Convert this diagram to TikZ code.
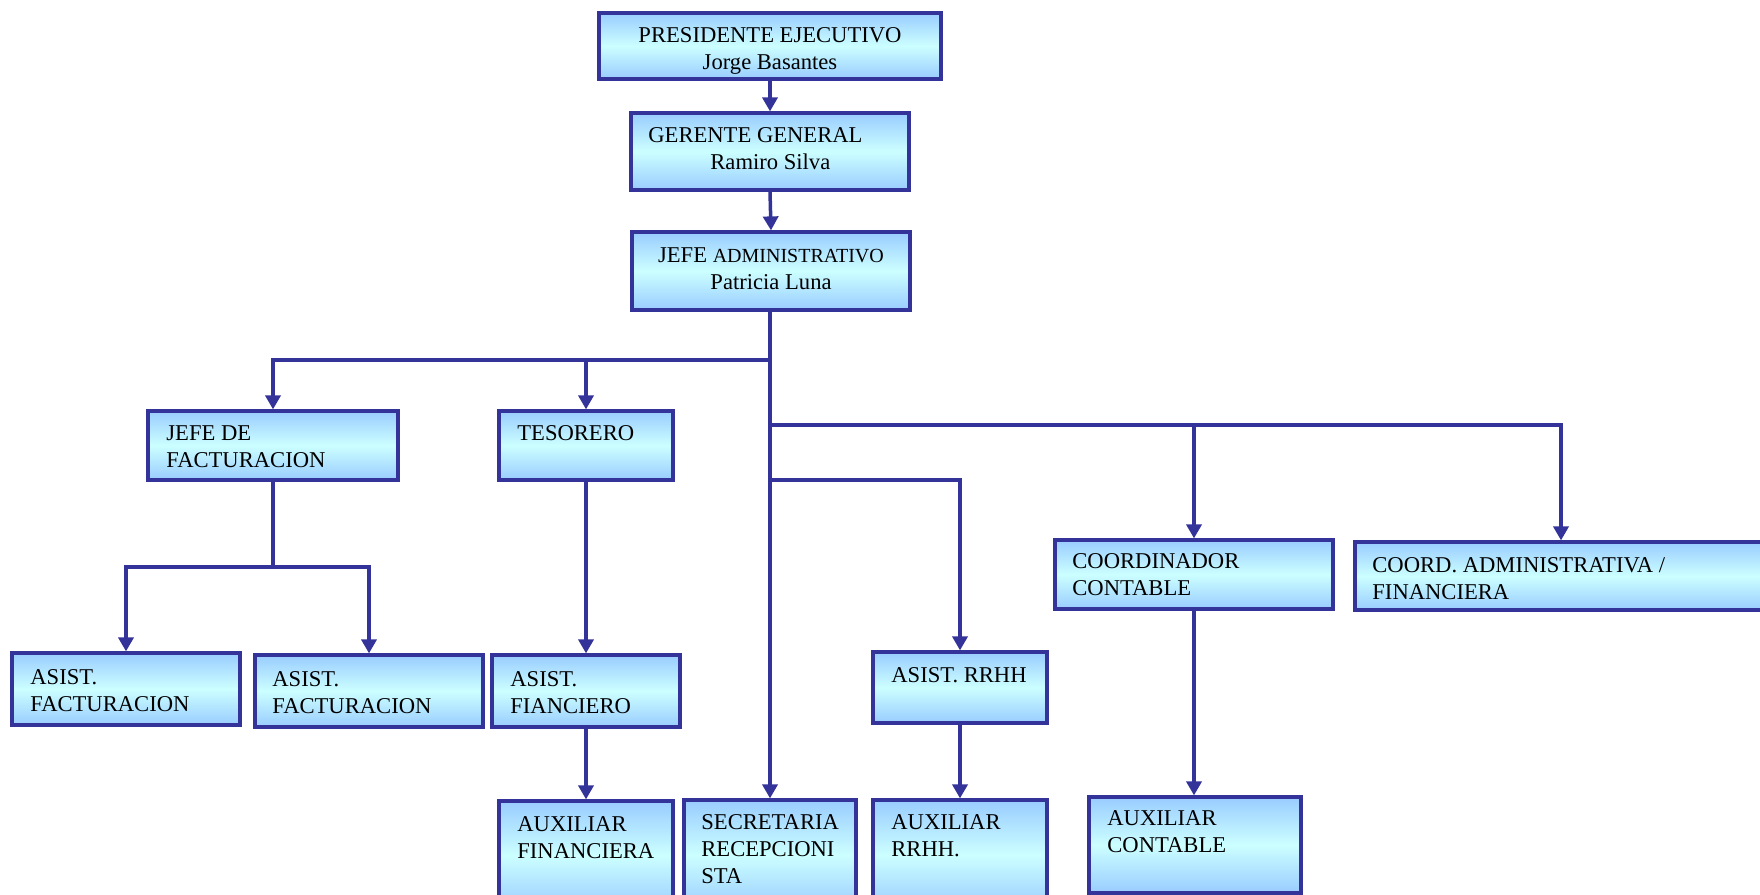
\documentclass[tikz,border=0pt]{standalone}
\usepackage{fontspec}
\setmainfont{Liberation Serif}
\usetikzlibrary{arrows.meta,calc}
\definecolor{edge}{HTML}{333399}
\definecolor{topc}{HTML}{99CCFF}
\definecolor{midc}{HTML}{CCFFFF}
\tikzset{
  box/.style={draw=edge, line width=1.6pt, rectangle, inner sep=0pt,
    top color=topc, bottom color=topc, middle color=midc},
  lbl/.style={anchor=north west, align=left, inner sep=0pt, text=black,
    font=\fontsize{11.3}{13.5}\selectfont},
  clbl/.style={anchor=north, align=center, inner sep=0pt, text=black,
    font=\fontsize{11.3}{13.5}\selectfont},
  conn/.style={draw=edge, line width=1.75pt},
  arr/.style={conn, -{Triangle[width=7.5pt,length=7pt]}},
}
\newcommand{\mkbox}[5]{% name, x1, y1, x2, y2
  \node[box, minimum width={(#4-#2)*0.5pt}, minimum height={(#5-#3)*0.5pt}]
    (#1) at ({(#2+#4)/2},{(#3+#5)/2}) {};}
\begin{document}
\begin{tikzpicture}[x=0.5pt,y=-0.5pt]
\useasboundingbox (0,0) rectangle (1760,894);
\clip (0,0) rectangle (1760,894);
% boxes
\mkbox{pres}{599}{13}{941}{79}
\mkbox{ger}{631}{113}{909}{190}
\mkbox{jadm}{632}{232}{910}{310}
\mkbox{jfact}{148}{411}{398}{480}
\mkbox{teso}{499}{411}{673}{480}
\mkbox{coordc}{1055}{540}{1333}{609}
\mkbox{coorda}{1355}{542}{1790}{610}
\mkbox{af1}{12}{653}{240}{725}
\mkbox{af2}{255}{655}{483}{727}
\mkbox{afin}{492}{655}{680}{727}
\mkbox{arrhh}{873}{652}{1047}{723}
\mkbox{auxfin}{499}{801}{673}{910}
\mkbox{secr}{684}{800}{856}{910}
\mkbox{auxrrhh}{873}{800}{1047}{910}
\mkbox{auxcont}{1089}{797}{1301}{893}
% texts
\node[clbl] at (770,27) {PRESIDENTE EJECUTIVO\\Jorge Basantes};
\node[lbl] at (648,127) {GERENTE GENERAL};
\node[lbl] at (710,153) {Ramiro Silva};
\node[clbl] at (771,247) {JEFE {\fontsize{10}{13.5}\selectfont ADMINISTRATIVO}\\Patricia Luna};
\node[lbl] at (166,425) {JEFE DE\\FACTURACION};
\node[lbl] at (517,425) {TESORERO};
\node[lbl] at (1072,553) {COORDINADOR\\CONTABLE};
\node[lbl] at (1372,557) {COORD. ADMINISTRATIVA /\\FINANCIERA};
\node[lbl] at (30,669) {ASIST.\\FACTURACION};
\node[lbl] at (272,671) {ASIST.\\FACTURACION};
\node[lbl] at (510,671) {ASIST.\\FIANCIERO};
\node[lbl] at (891,667) {ASIST. RRHH};
\node[lbl] at (517,816) {AUXILIAR\\FINANCIERA};
\node[lbl] at (701,814) {SECRETARIA\\RECEPCIONI\\STA};
\node[lbl] at (891,814) {AUXILIAR\\RRHH.};
\node[lbl] at (1107,810) {AUXILIAR\\CONTABLE};
% connectors
\draw[arr] (pres.south) -- (ger.north);
\draw[arr] (ger.south) -- (jadm.north);
\coordinate (t) at (770,310);
\draw[arr] (jadm.south -| t) -- (secr.north -| t);
\draw[arr] (770,360) -| (jfact.north);
\draw[arr] (teso.north |- 0,360) -- (teso.north);
\draw[arr] (770,425) -| (coorda.north -| 1561,0);
\draw[arr] (coordc.north |- 0,425) -- (coordc.north);
\draw[arr] (770,480) -| (arrhh.north);
\draw[conn] (jfact.south) -- (jfact.south |- 0,567);
\draw[arr] (jfact.south |- 0,567) -| (af1.north);
\draw[arr] (jfact.south |- 0,567) -| (af2.north);
\draw[arr] (teso.south) -- (teso.south |- afin.north);
\draw[arr] (afin.south) -- (afin.south |- auxfin.north);
\draw[arr] (arrhh.south) -- (auxrrhh.north);
\draw[arr] (coordc.south) -- (coordc.south |- auxcont.north);
\end{tikzpicture}
\end{document}
